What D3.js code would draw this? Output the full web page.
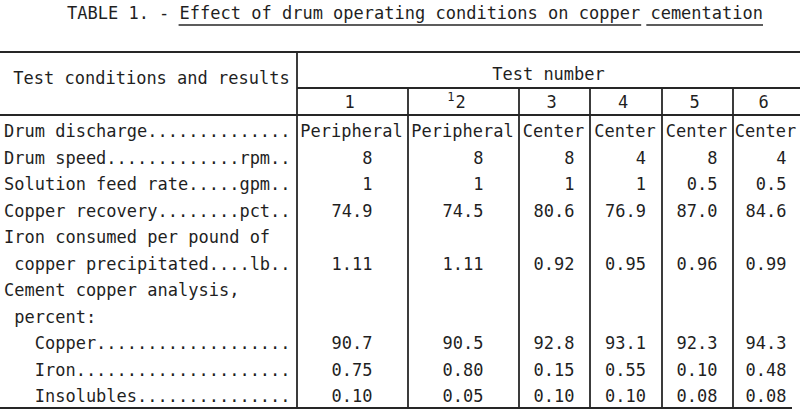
<!DOCTYPE html>
<html><head><meta charset="utf-8">
<script src="https://cdn.jsdelivr.net/npm/d3@7"></script>
<style>
body{margin:0;background:#fff}
text{font-family:"DejaVu Sans Mono",monospace;font-size:17px;fill:#1f1f1f;white-space:pre}
</style>
</head><body><svg id="c" width="800" height="414"></svg>
<script>
// ---- data ----
const titlePrefix = "TABLE 1. - ";
const titleParts = ["Effect of drum operating conditions on copper", "cementation"];
const stubHeader = "Test conditions and results";
const spannerHeader = "Test number";
const testNumbers = ["1", "2", "3", "4", "5", "6"];
const testFootnotes = ["", "1", "", "", "", ""];
const rowLabels = [
  "Drum discharge..............",
  "Drum speed.............rpm..",
  "Solution feed rate.....gpm..",
  "Copper recovery........pct..",
  "Iron consumed per pound of",
  " copper precipitated....lb..",
  "Cement copper analysis,",
  " percent:",
  "   Copper...................",
  "   Iron.....................",
  "   Insolubles..............."
];
const drumDischarge = ["Peripheral", "Peripheral", "Center", "Center", "Center", "Center"];
const drumSpeed = ["8", "8", "8", "4", "8", "4"];
const feedRate = ["1", "1", "1", "1", "0.5", "0.5"];
const copperRecovery = ["74.9", "74.5", "80.6", "76.9", "87.0", "84.6"];
const ironConsumed = ["1.11", "1.11", "0.92", "0.95", "0.96", "0.99"];
const cementCopper = ["90.7", "90.5", "92.8", "93.1", "92.3", "94.3"];
const cementIron = ["0.75", "0.80", "0.15", "0.55", "0.10", "0.48"];
const cementInsolubles = ["0.10", "0.05", "0.10", "0.10", "0.08", "0.08"];
const rowValues = [drumDischarge, drumSpeed, feedRate, copperRecovery, null, ironConsumed,
  null, null, cementCopper, cementIron, cementInsolubles];
const centeredRows = [0];

// ---- layout ----
const svg = d3.select("#c");
const W = 800;
const stubRight = 297;
const colLeft = d3.scaleOrdinal().domain(testNumbers).range([297, 408, 519, 590, 662, 733]);
const colRight = d3.scaleOrdinal().domain(testNumbers).range([408, 519, 590, 662, 733, 800]);
const colCenter = t => (colLeft(t) + colRight(t)) / 2;
const rowY = d3.scaleLinear().domain([0, rowLabels.length - 1]).range([137, 402]); // baselines
const ink = "#262626";

// title
const title = svg.append("text").attr("x", 67).attr("y", 19);
title.append("tspan").text(titlePrefix);
title.append("tspan").text(titleParts[0] + " ");
title.append("tspan").text(titleParts[1]);
const charW = title.node().getComputedTextLength() / (titlePrefix + titleParts[0] + " " + titleParts[1]).length;
const uStart1 = 67 + titlePrefix.length * charW;
const uEnd1 = uStart1 + titleParts[0].length * charW;
const uStart2 = uEnd1 + charW * 0.6;
const uEnd2 = uStart1 + (titleParts[0].length + 1 + titleParts[1].length) * charW;
svg.append("line").attr("x1", uStart1 - 1).attr("x2", uEnd1 + 1).attr("y1", 25).attr("y2", 25)
  .attr("stroke", ink).attr("stroke-width", 1.6);
svg.append("line").attr("x1", uStart2).attr("x2", uEnd2).attr("y1", 25).attr("y2", 25)
  .attr("stroke", ink).attr("stroke-width", 1.6);

// rules
const rules = [
  [0, 52, W, 52],
  [stubRight, 88, W, 88],
  [0, 115, W, 115],
  [0, 408, 792, 408],
  [stubRight, 52, stubRight, 408]
];
testNumbers.slice(1).forEach(t => rules.push([colLeft(t), 88, colLeft(t), 408]));
svg.selectAll("line.rule").data(rules).join("line").attr("class", "rule")
  .attr("x1", d => d[0]).attr("y1", d => d[1]).attr("x2", d => d[2]).attr("y2", d => d[3])
  .attr("stroke", ink).attr("stroke-width", 1.8);

// headers
svg.append("text").attr("x", stubRight / 2 + 3).attr("y", 84).attr("text-anchor", "middle").text(stubHeader);
svg.append("text").attr("x", (stubRight + W) / 2).attr("y", 80).attr("text-anchor", "middle").text(spannerHeader);
const hdr = svg.selectAll("g.hdr").data(testNumbers).join("g").attr("class", "hdr");
hdr.append("text").attr("x", t => colCenter(t) - 3).attr("y", 108).attr("text-anchor", "middle").text(t => t);
hdr.filter((t, i) => testFootnotes[i]).append("text")
  .attr("x", t => colCenter(t) - 9).attr("y", 101).attr("text-anchor", "end")
  .style("font-size", "12px").text(t => testFootnotes[testNumbers.indexOf(t)]);

// row labels
svg.selectAll("text.lbl").data(rowLabels).join("text").attr("class", "lbl")
  .attr("x", 4).attr("y", (d, i) => rowY(i)).text(d => d);

// values
rowValues.forEach((vals, r) => {
  if (!vals) return;
  const centered = centeredRows.includes(r);
  svg.selectAll("text.v" + r).data(vals).join("text").attr("class", "v" + r)
    .attr("x", (d, i) => centered ? colCenter(testNumbers[i]) - 1 : colCenter(testNumbers[i]) + 20)
    .attr("y", rowY(r))
    .attr("text-anchor", centered ? "middle" : "end")
    .text(d => d);
});
</script>
</body></html>
